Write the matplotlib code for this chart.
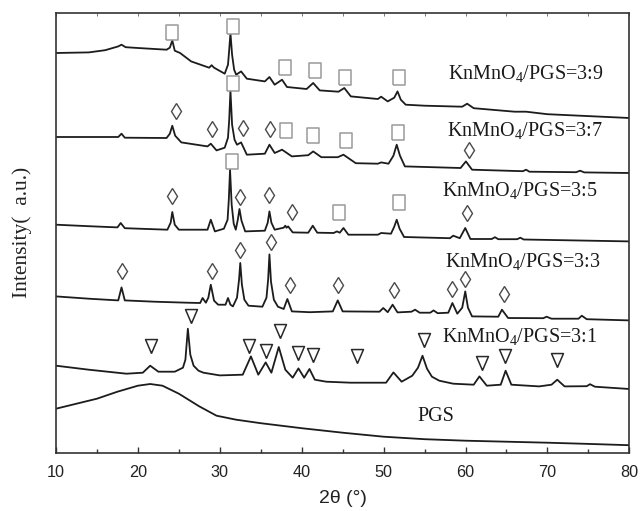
import matplotlib
matplotlib.use("Agg")
import matplotlib.pyplot as plt

# ---------------- data (2theta in degrees, intensity in a.u.) ----------------
pgs_x = [10, 12.5, 15, 17.5, 20, 21.5, 23, 25, 27.5, 29.6, 32, 35, 40, 45, 50, 55, 60, 65, 70, 75, 80]
pgs_y = [44, 49, 54, 61, 67, 68.7, 67, 59, 46.3, 37, 33, 29.5, 24.5, 20, 16, 13.5, 12, 11, 10, 8.8, 7.5]

r31_x = [10, 14, 18.6, 20.6, 21.5, 22.5, 24.5, 25.5, 25.8, 26.1, 26.4, 26.8, 27.4, 28, 30, 32.8, 33.8,
         34.7, 35.6, 36.3, 37.2, 38.0, 38.9, 39.6, 40.3, 40.95, 41.6, 43, 46, 50.3, 51.2, 52.2, 53.5,
         54.2, 54.75, 55.3, 55.9, 56.8, 58.5, 61.0, 61.7, 62.6, 64.3, 64.9, 65.6, 69, 70.5, 71.2, 72.1,
         74.8, 75.2, 75.8, 80]
r31_y = [87, 83, 79, 80, 87, 81, 81, 85, 93, 124, 98, 87, 82, 80, 77.3, 78, 96.3,
         78, 90.3, 80, 105.7, 83, 75, 84.3, 75, 83.7, 73, 71, 70, 70, 80.3, 71, 77,
         85, 97, 84, 76, 72, 69, 68, 76.3, 67, 68, 82, 68, 66.3, 68, 73, 66.3,
         66.5, 68.5, 66, 63.7]

r33_x = [10, 14, 17.6, 18.0, 18.4, 22, 26, 27.6, 27.9, 28.3, 28.6, 28.9, 29.3, 29.8, 30.7, 31.0, 31.3,
         31.6, 32.1, 32.35, 32.5, 32.7, 33.0, 33.5, 35.2, 35.7, 35.9, 36.06, 36.25, 36.6, 37.1, 37.8,
         38.25, 38.8, 41, 43.8, 44.4, 45.0, 49.5, 49.96, 50.5, 51.1, 51.7, 53.4, 53.85, 54.4, 55.7,
         56.1, 56.6, 57.9, 58.4, 59.0, 59.6, 59.97, 60.3, 60.8, 64.0, 64.45, 65.2, 69.5, 69.9, 70.5,
         73.8, 74.2, 74.8, 80]
r33_y = [156.3, 154, 152.3, 165.3, 152.3, 151, 150, 149.7, 154.7, 150, 155, 168, 152, 148, 148, 154.7, 148,
         146.3, 155, 173, 189.7, 168, 153, 147, 146, 155, 173, 198.3, 171, 153, 146, 143.7,
         153.7, 141.3, 140.5, 141.3, 152.3, 141.3, 141, 144.7, 140.5, 148, 140.3, 141, 143, 140, 140,
         142.3, 139.5, 140, 149.7, 139, 145, 161.3, 145, 136.3, 136, 143, 134.7, 134.5, 136, 134,
         134, 137, 133.5, 132.3]

r35_x = [10, 14, 17.5, 17.9, 18.4, 23.6, 24.0, 24.2, 24.5, 25.0, 28.5, 28.9, 29.4, 30.5, 30.95, 31.1,
         31.25, 31.45, 31.7, 31.95, 32.2, 32.4, 32.65, 33.1, 35.5, 35.85, 36.06, 36.3, 36.7, 37.8, 38.0,
         38.15, 38.35, 38.9, 40.8, 41.35, 41.9, 43.9, 44.3, 44.65, 45.1, 45.7, 49.3, 49.7, 50.9, 51.3,
         51.6, 51.95, 52.5, 58.1, 58.5, 59.3, 59.97, 60.6, 63.2, 63.6, 64.0, 66.3, 66.7, 67.1, 80]
r35_y = [228, 226.5, 225.3, 229.7, 224.5, 223, 230, 240.7, 228, 223, 223, 233, 221.3, 224, 233, 253,
         283, 248, 229, 223, 233, 243.7, 232, 221.3, 222, 230, 241.3, 230, 223, 225, 227,
         225, 226.3, 220.3, 220, 227, 220, 219.7, 221.3, 220, 224.7, 218, 218, 219.7, 219, 226,
         233, 224, 215.7, 214.5, 217, 214.5, 224.7, 213.7, 213.7, 215.5, 213.5, 213.5, 215, 213.2, 211.3]

r37_x = [10, 14, 17.6, 18.0, 18.4, 23.5, 23.9, 24.2, 24.55, 25.3, 28.5, 28.9, 29.6, 30.6, 31.0, 31.15,
         31.3, 31.5, 31.8, 32.1, 32.6, 33.3, 35.5, 36.06, 36.7, 37.6, 38.8, 40.8, 41.4, 42.4, 44.4, 45.1,
         46.6, 49.3, 49.7, 50.6, 51.2, 51.6, 52.0, 52.6, 59.4, 60.05, 60.8, 67.0, 67.4, 67.8, 73.5, 74.0,
         74.5, 80]
r37_y = [315.7, 315.7, 315.7, 319, 315, 314.7, 319, 327, 317, 310.3, 306.3, 309, 302.3, 305, 315, 333,
         362.3, 328, 313, 308, 310.3, 298, 299, 308, 299.7, 303, 296.3, 297.5, 301.3, 295.5, 295.5, 298,
         289.5, 289, 290.3, 289, 297, 308, 297, 286.3, 284.7, 291.3, 283, 281.5, 283, 281, 280.5, 282,
         280.3, 279.7]

r39_x = [10, 14, 16, 17.6, 18.0, 18.5, 20, 23.5, 23.9, 24.2, 24.5, 25.15, 26.5, 28.7, 29.0, 29.3, 30.6,
         31.0, 31.15, 31.3, 31.5, 31.75, 32.0, 32.6, 33.3, 35.5, 36.06, 36.7, 37.6, 38.2, 40.6, 41.4,
         42.2, 44.5, 45.2, 46.0, 49.3, 49.7, 50.5, 51.3, 51.7, 52.1, 52.7, 55, 59.6, 60.2, 61, 66, 67.4,
         70, 80]
r39_y = [399.7, 400.3, 402.5, 406.3, 408, 405.5, 404.7, 403, 405, 412.3, 402, 399.7, 391.3, 385, 387.5, 385, 379,
         388, 403, 419.7, 398, 383, 378, 381.3, 374, 371.3, 375.7, 368, 373, 365.7, 363.7, 369.7,
         362.3, 361, 364.7, 356.3, 353.7, 356, 351.3, 355, 361.3, 353, 348, 347, 346, 349, 344.5, 341, 341,
         338.5, 334.7]

# phase markers
sq_x = [24.2, 31.6, 37.9, 41.6, 45.3, 51.9, 31.6, 38.1, 41.4, 45.4, 51.7, 31.5, 44.5, 51.9]
sq_y = [420.7, 426.3, 385.7, 383, 375.3, 375.3, 369.7, 322.3, 317.7, 313, 320.3, 291.3, 240.5, 251]
dm_x = [24.6, 29.1, 32.8, 36.1, 60.4, 24.2, 32.5, 36.06, 38.8, 60.2,
        18.06, 29.0, 32.5, 36.3, 38.6, 44.4, 51.3, 58.4, 59.97, 64.7]
dm_y = [341.3, 323.7, 324.7, 323.7, 303, 256.3, 255.3, 258, 241, 239.7,
        181.3, 182, 203, 210.3, 168, 168, 162.3, 163.7, 174, 158.7]
tr_x = [21.6, 26.5, 33.6, 35.7, 37.4, 39.6, 41.4, 46.7, 54.9, 62.0, 64.85, 71.2]
tr_y = [106.3, 137, 107, 101.3, 122, 99.7, 98, 97, 112.3, 89.7, 97, 92.3]

labels = ["KnMnO$_\\mathregular{4}$/PGS=3:9", "KnMnO$_\\mathregular{4}$/PGS=3:7",
          "KnMnO$_\\mathregular{4}$/PGS=3:5", "KnMnO$_\\mathregular{4}$/PGS=3:3",
          "KnMnO$_\\mathregular{4}$/PGS=3:1", "PGS"]
label_x = [57.9, 57.7, 57.15, 57.5, 57.1, 54.1]
label_y = [373, 316.3, 256.3, 184.7, 110.3, 31.3]

xticks = [10, 20, 30, 40, 50, 60, 70, 80]

# ---------------- figure ----------------
plt.rcParams['mathtext.fontset'] = 'custom'
plt.rcParams['mathtext.rm'] = 'Liberation Serif'

fig = plt.figure(figsize=(6.41, 5.11), dpi=100)
ax = fig.add_axes([56 / 641, (511 - 452.7) / 511, (629.3 - 56) / 641, (452.7 - 12.7) / 511])

line_kw = dict(color='#1c1c1c', lw=1.3)
for xs, ys in [(pgs_x, pgs_y), (r31_x, r31_y), (r33_x, r33_y), (r35_x, r35_y), (r37_x, r37_y), (r39_x, r39_y)]:
    ax.plot(xs, ys, **line_kw)

rect = [(-0.4, -0.5), (0.4, -0.5), (0.4, 0.5), (-0.4, 0.5), (-0.4, -0.5)]
tri = [(0, -0.5), (-0.43, 0.5), (0.43, 0.5), (0, -0.5)]
ax.plot(sq_x, sq_y, ls='none', marker=rect, ms=10.8, mfc='white', mec='#9a9a9a', mew=1.1)
ax.plot(dm_x, dm_y, ls='none', marker='d', ms=8.0, mfc='white', mec='#4a4a4a', mew=1.0)
ax.plot(tr_x, tr_y, ls='none', marker=tri, ms=10, mfc='white', mec='#2a2a2a', mew=1.1)

for t, x, y in zip(labels, label_x, label_y):
    ax.text(x, y, t, family='Liberation Serif', fontsize=14.5, ha='left', va='baseline', color='#1a1a1a')

ax.set_xlim(10, 80)
ax.set_ylim(0, 440)
ax.set_xticks(xticks)
ax.set_xticks(range(15, 80, 10), minor=True)
ax.set_xticklabels([str(v) for v in xticks], family='Liberation Sans', fontsize=11.7, color='#222')
ax.set_yticks([])
ax.tick_params(axis='x', which='major', direction='in', length=4.5, width=1.0, pad=9, color='#333')
ax.tick_params(axis='x', which='minor', direction='in', length=2.7, width=1.0, color='#333')
for s in ax.spines.values():
    s.set_linewidth(1.2)
    s.set_color('#333')

top = ax.secondary_xaxis('top')
top.set_xticks(list(range(10, 81, 5)))
top.set_xticklabels([])
top.tick_params(direction='in', length=1.8, width=0.7, colors='#777')
top.spines['top'].set_visible(False)

ax.set_xlabel("2θ (°)", family='Liberation Sans', fontsize=14, color='#222')
ax.xaxis.set_label_coords(0.5, -0.1045)
ax.xaxis.label.set_va('center')
ax.set_ylabel("Intensity(  a.u.)", family='Liberation Serif', fontsize=15.5, color='#222')
ax.yaxis.set_label_coords(-0.042, 0.5)

fig.savefig("out.png", dpi=100)
